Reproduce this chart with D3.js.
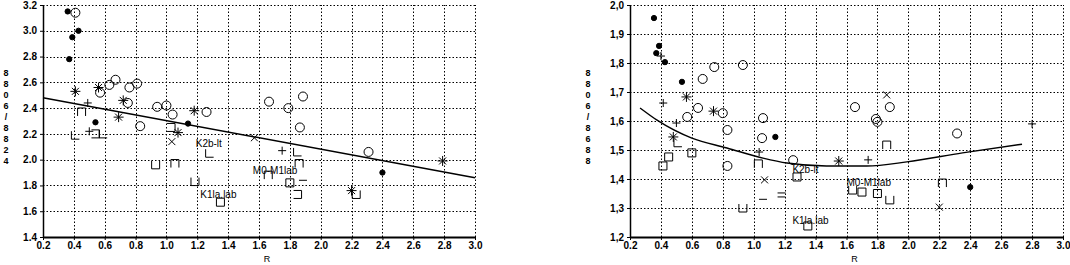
<!DOCTYPE html>
<html>
<head>
<meta charset="utf-8">
<script src="https://cdnjs.cloudflare.com/ajax/libs/d3/7.8.5/d3.min.js"></script>
<style>
  body { margin: 0; background: #fff; }
  svg { display: block; font-family: "Liberation Sans", Arial, sans-serif; }
  .tick text { font-size: 10px; font-weight: bold; fill: #000; }
  .lbl { font-size: 10px; fill: #000; }
</style>
</head>
<body>
<div id="chart"></div>
<script>
// ---- data ----
let xTicks = [0.2, 0.4, 0.6, 0.8, 1.0, 1.2, 1.4, 1.6, 1.8, 2.0, 2.2, 2.4, 2.6, 2.8, 3.0]
let leftYTicks = [1.4, 1.6, 1.8, 2.0, 2.2, 2.4, 2.6, 2.8, 3.0, 3.2]
let rightYTicks = [1.2, 1.3, 1.4, 1.5, 1.6, 1.7, 1.8, 1.9, 2.0]

let leftYLabel = ["8", "8", "0", "6", "/", "8", "8", "2", "4"]
let rightYLabel = ["8", "8", "0", "6", "/", "8", "6", "8", "8"]

// left panel
let leftR = [0.36, 0.41, 0.43, 0.39, 0.37, 0.41, 0.56, 0.57, 0.63, 0.67, 0.76, 0.81, 0.72, 0.75, 0.49, 0.45,
    0.94, 1.00, 0.54, 0.69, 0.83, 1.04, 1.18, 1.26, 1.14, 0.41, 0.50, 0.54, 0.59, 1.03, 1.075, 1.035,
    1.28, 0.93, 1.055, 1.185, 1.35, 1.665, 1.79, 1.885, 1.865, 1.75, 1.85, 2.31, 2.79, 2.40, 1.86, 1.66,
    1.80, 1.885, 1.85, 2.20, 2.23, 1.57]
let leftV = [3.15, 3.14, 3.00, 2.95, 2.78, 2.53, 2.56, 2.52, 2.58, 2.62, 2.56, 2.59, 2.46, 2.44, 2.44, 2.37,
    2.41, 2.42, 2.29, 2.33, 2.26, 2.35, 2.38, 2.37, 2.28, 2.19, 2.22, 2.20, 2.20, 2.25, 2.21, 2.14,
    2.05, 1.96, 1.97, 1.83, 1.67, 2.45, 2.40, 2.49, 2.25, 2.07, 2.06, 2.06, 1.99, 1.90, 1.97, 1.88,
    1.82, 1.84, 1.73, 1.76, 1.73, 2.17]
let leftMark = ["dot", "circ", "dot", "dot", "dot", "ast", "ast", "circ", "circ", "circ", "circ", "circ", "ast", "circ", "plus", "sqP",
    "circ", "circ", "dot", "ast", "circ", "circ", "ast", "circ", "dot", "sqL", "plus", "sqR", "sqL", "sqR", "ast", "x",
    "sqL", "sqU", "sqP", "sqU", "sq", "circ", "circ", "circ", "circ", "plus", "sqL", "circ", "ast", "dot", "sqP", "sqP",
    "sq", "dash", "sqR", "ast", "sqU", "x"]
// straight fit line, end points
let leftFitR = [0.2, 3.0]
let leftFitV = [2.48, 1.86]

// right panel
let rightR = [0.355, 0.388, 0.37, 0.40, 0.426, 0.536, 0.67, 0.745, 0.93, 0.415, 0.565, 0.64, 0.74, 0.80, 0.57, 0.50,
    0.48, 0.51, 0.83, 1.054, 1.14, 0.413, 0.45, 0.60, 0.83, 1.035, 1.03, 1.07, 1.06, 1.18, 0.93, 1.255,
    1.28, 1.80, 2.80, 2.315, 1.86, 1.55, 1.74, 1.70, 1.64, 1.80, 1.88, 2.22, 2.40, 2.20, 1.35, 1.655,
    1.88, 1.86, 1.79, 1.06]
let rightV = [1.955, 1.859, 1.834, 1.824, 1.803, 1.735, 1.745, 1.786, 1.793, 1.662, 1.683, 1.645, 1.634, 1.627, 1.614, 1.593,
    1.545, 1.525, 1.569, 1.541, 1.545, 1.445, 1.476, 1.49, 1.445, 1.493, 1.452, 1.397, 1.33, 1.345, 1.30, 1.465,
    1.407, 1.597, 1.59, 1.557, 1.517, 1.462, 1.466, 1.355, 1.362, 1.35, 1.328, 1.386, 1.372, 1.303, 1.238, 1.648,
    1.648, 1.69, 1.607, 1.61]
let rightMark = ["dot", "dot", "dot", "plus", "dot", "dot", "circ", "circ", "circ", "plus", "ast", "circ", "ast", "circ", "circ", "plus",
    "ast", "sqL", "circ", "circ", "dot", "sq", "sq", "sq", "circ", "plus", "sqP", "x", "dash", "eq", "sqU", "circ",
    "sq", "circ", "plus", "circ", "sqP", "ast", "plus", "sq", "sqU", "sq", "sqU", "sqP", "dot", "x", "sq", "circ",
    "circ", "x", "circ", "circ"]
// curved fit, points
let rightFitR = [0.265, 0.375, 0.6, 0.827, 1.06, 1.215, 1.47, 1.73, 1.99, 2.35, 2.735]
let rightFitV = [1.645, 1.603, 1.541, 1.507, 1.472, 1.455, 1.445, 1.445, 1.459, 1.49, 1.52]

// group labels drawn inside the plots
let leftNotes = [{t: "K2b-lt", r: 1.19, v: 2.1}, {t: "K1la.lab", r: 1.22, v: 1.7}, {t: "M0-M1lab", r: 1.56, v: 1.89}]
let rightNotes = [{t: "K2b-lt", r: 1.25, v: 1.42}, {t: "M0-M1lab", r: 1.6, v: 1.375}, {t: "K1la.lab", r: 1.25, v: 1.245}]


function markPath(type) {
    let p = d3.path()
    let s = 4
    if (type === "circ") {
        p.arc(0, 0, 4.5, 0, 2 * Math.PI)
    } else if (type === "ast") {
        p.moveTo(-5, 0); p.lineTo(5, 0)
        p.moveTo(0, -5); p.lineTo(0, 5)
        p.moveTo(-3.5, -3.5); p.lineTo(3.5, 3.5)
        p.moveTo(-3.5, 3.5); p.lineTo(3.5, -3.5)
    } else if (type === "plus") {
        p.moveTo(-4, 0); p.lineTo(4, 0)
        p.moveTo(0, -4); p.lineTo(0, 4)
    } else if (type === "x") {
        p.moveTo(-3.5, -3.5); p.lineTo(3.5, 3.5)
        p.moveTo(-3.5, 3.5); p.lineTo(3.5, -3.5)
    } else if (type === "sq") {
        p.rect(-s, -s, 2 * s, 2 * s)
    } else if (type === "sqL") {
        p.moveTo(-s, -s); p.lineTo(-s, s); p.lineTo(s, s)
    } else if (type === "sqP") {
        p.moveTo(-s, s); p.lineTo(-s, -s); p.lineTo(s, -s); p.lineTo(s, s)
    } else if (type === "sqU") {
        p.moveTo(-s, -s); p.lineTo(-s, s); p.lineTo(s, s); p.lineTo(s, -s)
    } else if (type === "sqR") {
        p.moveTo(-s, -s); p.lineTo(s, -s); p.lineTo(s, s); p.lineTo(-s, s)
    } else if (type === "dash") {
        p.moveTo(-4, 0); p.lineTo(4, 0)
    } else if (type === "eq") {
        p.moveTo(-4, -2); p.lineTo(4, -2)
        p.moveTo(-4, 2); p.lineTo(4, 2)
    }
    return p.toString()
}


function drawPanel(svg, cfg) {
    let x = d3.scaleLinear().domain([0.2, 3.0]).range([cfg.left, cfg.right])
    let y = d3.scaleLinear().domain(d3.extent(cfg.yTicks)).range([237, 5])

    let g = svg.append("g")

    // dotted grid (includes top and right border)
    let grid = g.append("g").attr("fill", "none").attr("stroke", "#000")
        .attr("stroke-width", 1).attr("stroke-dasharray", "1.5,2")
    xTicks.slice(1).forEach(d => {
        let px = Math.round(x(d)) + 0.5
        grid.append("path").attr("d", `M${px},237V5`)
    })
    cfg.yTicks.slice(1).forEach(d => {
        let py = Math.round(y(d)) + 0.5
        grid.append("path").attr("d", `M${cfg.left},${py}H${cfg.right}`)
    })

    // axes
    let xAxis = d3.axisBottom(x).tickValues(xTicks).tickSize(3).tickPadding(2).tickSizeOuter(0)
        .tickFormat(d => cfg.xFmt(d))
    let yAxis = d3.axisLeft(y).tickValues(cfg.yTicks).tickSize(3).tickSizeOuter(0)
        .tickFormat(d => cfg.yFmt(d))

    let gx = g.append("g").attr("transform", "translate(0,237)").call(xAxis)
    let gy = g.append("g").attr("transform", `translate(${cfg.left},0)`).call(yAxis)
    gx.select(".domain").attr("stroke-width", 2)
    gy.select(".domain").attr("stroke-width", 1.5)

    // y label: a column of characters
    g.selectAll(".ylab").data(cfg.yLabel).enter().append("text")
        .attr("class", "lbl")
        .attr("x", cfg.yLabelX).attr("y", (d, i) => 76 + i * 11)
        .attr("text-anchor", "middle")
        .style("font-weight", "bold").style("font-size", "9px")
        .text(d => d)

    g.append("text").attr("class", "lbl")
        .attr("x", x(1.6) + 8).attr("y", 262)
        .attr("text-anchor", "middle")
        .style("font-size", "9px")
        .text("R")

    // fit line
    let fit = cfg.fitR.map((r, i) => [r, cfg.fitV[i]])
    g.append("path")
        .datum(fit)
        .attr("fill", "none").attr("stroke", "#000").attr("stroke-width", 1.4)
        .attr("d", d3.line().x(d => x(d[0])).y(d => y(d[1])).curve(d3.curveMonotoneX))

    // points
    let pts = cfg.r.map((r, i) => ({r: r, v: cfg.v[i], m: cfg.mark[i]}))
    g.selectAll(".pt").data(pts).enter().append("path")
        .attr("transform", d => `translate(${x(d.r)},${y(d.v)})`)
        .attr("d", d => d.m === "dot" ? d3.symbol(d3.symbolCircle, 22)() : markPath(d.m))
        .attr("fill", d => d.m === "dot" ? "#000" : "none")
        .attr("stroke", "#000").attr("stroke-width", 1)

    g.selectAll(".note").data(cfg.notes).enter().append("text")
        .attr("class", "lbl")
        .attr("x", d => x(d.r)).attr("y", d => y(d.v))
        .text(d => d.t)
}

let svg = d3.select("#chart").append("svg").attr("width", 1070).attr("height", 265)

drawPanel(svg, {
    left: 43, right: 475, yTicks: leftYTicks, yLabel: leftYLabel, yLabelX: 6,
    xFmt: d => d.toFixed(1), yFmt: d => d.toFixed(1),
    r: leftR, v: leftV, mark: leftMark, fitR: leftFitR, fitV: leftFitV, notes: leftNotes
})

drawPanel(svg, {
    left: 630, right: 1063, yTicks: rightYTicks, yLabel: rightYLabel, yLabelX: 588,
    xFmt: d => d.toFixed(1), yFmt: d => d.toFixed(1).replace(".", ","),
    r: rightR, v: rightV, mark: rightMark, fitR: rightFitR, fitV: rightFitV, notes: rightNotes
})
</script>
</body>
</html>
